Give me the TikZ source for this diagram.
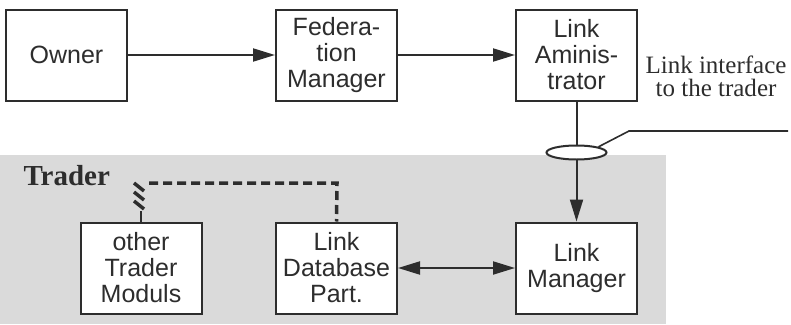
\documentclass[tikz,border=0pt]{standalone}
\usepackage{fontspec}
\setmainfont{Liberation Sans}
\newfontfamily\seriffont{Liberation Serif}
\usetikzlibrary{arrows.meta,shapes.geometric}
\definecolor{ink}{RGB}{45,45,45}
\definecolor{panel}{RGB}{218,218,218}
\tikzset{
  block/.style={draw=ink, line width=2pt, fill=white, minimum width=121pt,
    minimum height=91pt, inner sep=0pt, align=center, text=ink,
    font=\fontsize{25}{26}\selectfont},
  link/.style={draw=ink, line width=2pt},
  tip/.style={-{Triangle[length=22pt,width=13pt]}},
  dtip/.style={{Triangle[length=22pt,width=13pt]}-{Triangle[length=22pt,width=13pt]}},
}
\begin{document}
\begin{tikzpicture}[x=1pt,y=-1pt]
\useasboundingbox (0,0) rectangle (791,324);
% shaded trader region
\fill[panel] (0,155) rectangle (666,324);
\node[anchor=base west, font=\seriffont\bfseries\fontsize{29}{30}\selectfont, text=ink]
  (trader) at (20,185) {Trader};

% boxes
\node[block] (owner) at (66.5,55) {Owner};
\node[block] (fed)   at (336.5,55) {Federa-\\tion\\Manager};
\node[block] (adm)   at (576.5,55) {Link\\Aminis-\\trator};
\node[block] (other) at (141,268) {other\\Trader\\Moduls};
\node[block] (ldb)   at (336.5,268) {Link\\Database\\Part.};
\node[block] (lmgr)  at (576.5,268) {Link\\Manager};

% connectors
\draw[link,tip] (owner) -- (fed);
\draw[link,tip] (fed) -- (adm);
\draw[link,tip] (adm) -- (lmgr);
\draw[link,dtip] (ldb) -- (lmgr);

% interface marker with leader line and label
\node[draw=ink, line width=2pt, fill=white, ellipse, minimum width=60pt,
  minimum height=14pt, inner sep=0pt] (iface) at (576.5,152.5) {};
\coordinate (bend) at (629,131);
\coordinate (lend) at (788,131);
\draw[link, line width=1.6pt] (iface.north east) -- (bend) -- (lend);
\node[font=\seriffont\fontsize{25}{23}\selectfont, text=ink, align=center,
  anchor=base, inner sep=0pt] (ilabel) at (716,96) {Link interface\\to the trader};

% dashed coupling between trader modules
\coordinate (c1) at (142,183);
\coordinate (c2) at (337,183);
\draw[draw=ink, line width=3.5pt, dash pattern=on 9pt off 5pt]
  (c1) ++(7,0) -- (c2) -- (ldb.north);
\draw[draw=ink, line width=2.5pt] (other.north) -- ++(0,-11);
\foreach \yy in {183,192,201}
  \draw[draw=ink, line width=3.5pt] (134,\yy) -- (144,\yy+8);
\end{tikzpicture}
\end{document}
